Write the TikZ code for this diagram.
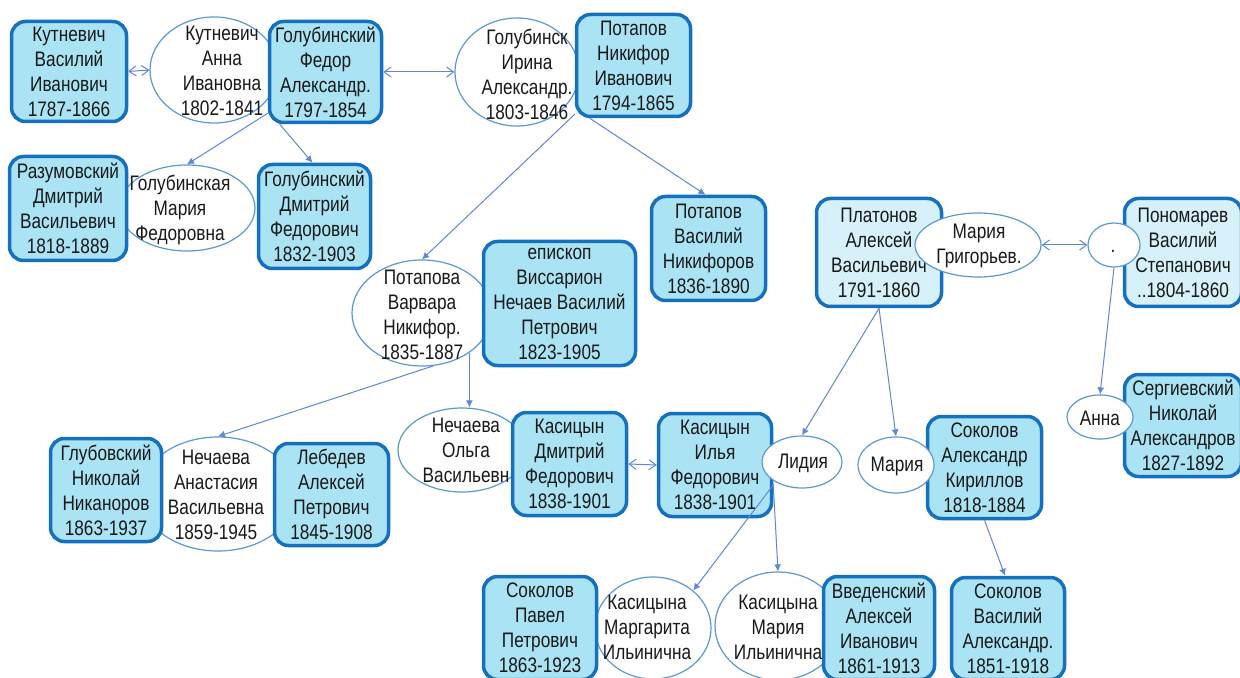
\documentclass[tikz,border=0pt]{standalone}
\usepackage{fontspec}
\setmainfont{Liberation Sans}[FakeStretch=0.82]
\usetikzlibrary{shapes.geometric,arrows.meta}
\definecolor{boxfill}{RGB}{170,228,244}
\definecolor{boxfilllt}{RGB}{214,241,250}
\definecolor{boxline}{RGB}{22,112,192}
\definecolor{ellline}{RGB}{92,152,214}
\definecolor{conn}{RGB}{98,134,214}
\definecolor{txtc}{RGB}{25,25,25}
\newcommand\nodefont{\fontsize{10.5}{12.5}\selectfont}
\begin{document}
\begin{tikzpicture}[x=0.5pt,y=-0.5pt,
  bx/.style={draw=boxline, line width=1.75pt, fill=boxfill, rounded corners=7pt, align=center, inner sep=0pt, font=\nodefont, text=txtc},
  bxlt/.style={bx, fill=boxfilllt},
  ell/.style={ellipse, draw=ellline, line width=0.6pt, fill=white, inner sep=0pt},
  tx/.style={align=center, inner sep=0pt, font=\nodefont, text=txtc},
  arr/.style={draw=conn, line width=0.5pt, -{Latex[length=3.5pt,width=3.5pt]}},
  dbl/.style={draw=conn, line width=0.5pt, {Straight Barb[length=3.5pt,width=5pt]}-{Straight Barb[length=3.5pt,width=5pt]}}]
\clip (0,0) rectangle (1240,678);
\fill[white] (0,0) rectangle (1240,678);

% ellipses lying under the boxes
\node[ell, minimum width=64pt, minimum height=53pt] (ka) at (214,70) {};
\node[tx] (kat) at (222,71) {Кутневич\\Анна\\Ивановна\\1802-1841};
\node[ell, minimum width=62pt, minimum height=54pt] (gi) at (517,72) {};
\node[tx] (git) at (527,74) {Голубинск\\Ирина\\Александр.\\1803-1846};
\node[ell, minimum width=68pt, minimum height=43pt] (gm) at (187,208) {};
\node[tx] (gmt) at (180,210) {Голубинская\\Мария\\Федоровна};
\node[ell, minimum width=70pt, minimum height=53pt] (va) at (422,313) {};
\node[tx] (vat) at (422,314.5) {Потапова\\Варвара\\Никифор.\\1835-1887};
\node[ell, minimum width=78pt, minimum height=57pt] (na) at (218,494) {};
\node[tx] (nat) at (216,494.5) {Нечаева\\Анастасия\\Васильевна\\1859-1945};
\node[ell, minimum width=64pt, minimum height=42pt] (ol) at (462,450) {};
\node[tx] (olt) at (466,450) {Нечаева\\Ольга\\Васильевн};
\node[ell, minimum width=58pt, minimum height=51pt] (mm) at (653,628) {};
\node[tx] (mmt) at (647,627) {Касицына\\Маргарита\\Ильинична};
\node[ell, minimum width=63pt, minimum height=54pt] (km) at (778,626) {};
\node[tx] (kmt) at (778,627) {Касицына\\Мария\\Ильинична};

% boxes
\node[bx, minimum width=57.5pt, minimum height=50pt] (kv) at (69,71.5) {Кутневич\\Василий\\Иванович\\1787-1866};
\node[bx, minimum width=56pt, minimum height=50.5pt] (gf) at (325.5,72) {Голубинский\\Федор\\Александр.\\1797-1854};
\node[bx, minimum width=57pt, minimum height=51pt] (pn) at (633.5,65.5) {Потапов\\Никифор\\Иванович\\1794-1865};
\node[bx, minimum width=58.5pt, minimum height=52pt] (rz) at (68,208.5) {Разумовский\\Дмитрий\\Васильевич\\1818-1889};
\node[bx, minimum width=56pt, minimum height=52pt] (gd) at (314.5,216.5) {Голубинский\\Дмитрий\\Федорович\\1832-1903};
\node[bx, minimum width=57pt, minimum height=52pt] (pv) at (708.5,248.5) {Потапов\\Василий\\Никифоров\\1836-1890};
\node[bx, minimum width=76pt, minimum height=62pt] (ep) at (559.5,303.5) {епископ\\Виссарион\\Нечаев Василий\\Петрович\\1823-1905};
\node[bxlt, minimum width=62.5pt, minimum height=54pt] (pl) at (879,252.5) {Платонов\\Алексей\\Васильевич\\1791-1860};
\node[bxlt, minimum width=58.5pt, minimum height=54pt] (pm) at (1183,252.5) {Пономарев\\Василий\\Степанович\\..1804-1860};
\node[bx, minimum width=58.5pt, minimum height=51pt] (sg) at (1183,425.5) {Сергиевский\\Николай\\Александров\\1827-1892};
\node[bx, minimum width=57pt, minimum height=51pt] (sa) at (984.5,467.5) {Соколов\\Александр\\Кириллов\\1818-1884};
\node[bx, minimum width=55.5pt, minimum height=51.5pt] (gl) at (106,490) {Глубовский\\Николай\\Никаноров\\1863-1937};
\node[bx, minimum width=57pt, minimum height=51pt] (lb) at (331.5,494.5) {Лебедев\\Алексей\\Петрович\\1845-1908};
\node[bx, minimum width=57pt, minimum height=51.5pt] (kd) at (569.5,464) {Касицын\\Дмитрий\\Федорович\\1838-1901};
\node[bx, minimum width=56.5pt, minimum height=51.5pt] (ki) at (715,465) {Касицын\\Илья\\Федорович\\1838-1901};
\node[bx, minimum width=56.5pt, minimum height=51.5pt] (sp) at (540,628) {Соколов\\Павел\\Петрович\\1863-1923};
\node[bx, minimum width=55.5pt, minimum height=51.5pt] (vv) at (879,628) {Введенский\\Алексей\\Иванович\\1861-1913};
\node[bx, minimum width=56.5pt, minimum height=51pt] (sv) at (1008,628.5) {Соколов\\Василий\\Александр.\\1851-1918};

% ellipses lying over the boxes
\node[ell, minimum width=40pt, minimum height=26pt] (li) at (802,462) {};
\node[tx] (lit) at (803,463) {Лидия};
\node[ell, minimum width=38pt, minimum height=28pt] (ms) at (896,465) {};
\node[tx] (mst) at (897,466) {Мария};
\node[ell, minimum width=63pt, minimum height=32pt] (mg) at (978,245) {};
\node[tx] (mgt) at (979,246) {Мария\\Григорьев.};
\node[ell, minimum width=26pt, minimum height=22pt] (dot) at (1114,245) {};
\node[tx] (dott) at (1113,251) {.};
\node[ell, minimum width=33pt, minimum height=22pt] (an) at (1100,417) {};
\node[tx] (ant) at (1100,418) {Анна};

% connectors
\draw[dbl] (kv.east) -- (ka.west);
\draw[dbl] (gf.east) -- (gi.west);
\draw[arr] ([yshift=5.5pt]gf.south west) -- (gm.north);
\draw[arr] ([xshift=6pt]gf.south west) -- ([xshift=-1pt]gd.north);
\draw[arr] ([yshift=2pt]pn.south west) -- (va.north);
\draw[arr] ([xshift=7.5pt]pn.south west) -- ([xshift=-1.5pt]pv.north);
\draw[arr] (va.-40) -- (va.-40 |- ol.north);
\draw[arr] (va.-78) -- (na.north);
\draw[dbl] (kd.east) -- (ki.west);
\draw[arr] (pl.south) -- (li.north);
\draw[arr] (pl.south) -- (ms.north);
\draw[dbl] (mg.east) -- (dot.west);
\draw[arr] (dot.south) -- (an.north);
\draw[arr] (sa.south) -- ([xshift=-1.5pt]sv.north);
\draw[arr] ([yshift=-10pt]ki.east) -- (mm.43);
\draw[arr] ([yshift=-10pt]ki.east) -- (km.north);
\end{tikzpicture}
\end{document}
